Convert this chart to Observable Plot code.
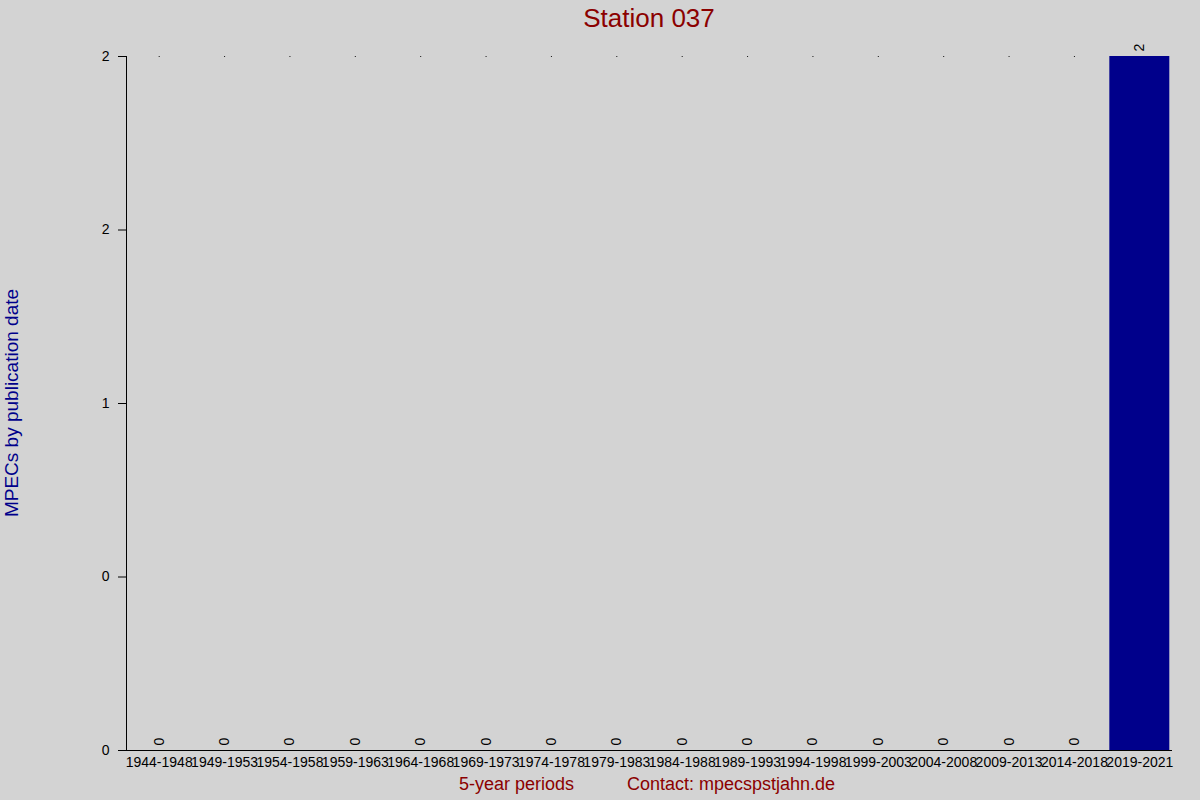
<!DOCTYPE html>
<html>
<head>
<meta charset="utf-8">
<script src="https://cdn.jsdelivr.net/npm/d3@7"></script>
<script src="https://cdn.jsdelivr.net/npm/@observablehq/plot@0.6"></script>
<style>
  html, body { margin: 0; padding: 0; background: #D3D3D3; }
  #wrap { position: relative; width: 1200px; height: 800px; background: #D3D3D3; font-family: "Liberation Sans", Arial, sans-serif; overflow: hidden; }
  .lbl { position: absolute; white-space: nowrap; }
</style>
</head>
<body>
<div id="wrap">
  <div id="chart"></div>
  <div class="lbl" id="title" style="left:0; width:1298px; top:5px; text-align:center; font-size:26px; line-height:26px; color:#8B0000;"></div>
  <div class="lbl" id="ytitle" style="left:10.5px; top:403px; transform:translate(-50%,-50%) rotate(-90deg); font-size:19px; line-height:19px; color:#00008B;"></div>
  <div class="lbl" id="xtitle" style="left:516.5px; top:784px; transform:translate(-50%,-50%); font-size:18px; line-height:18px; color:#8B0000;"></div>
  <div class="lbl" id="contact" style="left:627px; top:784px; transform:translate(0,-50%); font-size:18px; line-height:18px; color:#8B0000;"></div>
</div>
<script>
const titleText = "Station 037";
const yTitle = "MPECs by publication date";
const xTitle = "5-year periods";
const contactText = "Contact: mpecspstjahn.de";

const periods = ["1944-1948","1949-1953","1954-1958","1959-1963","1964-1968","1969-1973","1974-1978","1979-1983","1984-1988","1989-1993","1994-1998","1999-2003","2004-2008","2009-2013","2014-2018","2019-2021"];
const counts = [0,0,0,0,0,0,0,0,0,0,0,0,0,0,0,2];
const yTicks = [0, 0.5, 1, 1.5, 2];
const yTickLabels = ["0","0","1","2","2"];

document.getElementById("title").textContent = titleText;
document.getElementById("ytitle").textContent = yTitle;
document.getElementById("xtitle").textContent = xTitle;
document.getElementById("contact").textContent = contactText;

const data = periods.map((p, i) => ({period: p, count: counts[i]}));
const yMax = d3.max(counts);

// vertical y-axis line along the left edge of the plot frame
function yAxisLine(index, scales, values, dimensions) {
  const {marginLeft} = dimensions;
  const y0 = scales.y(0), y1 = scales.y(yMax);
  const line = document.createElementNS("http://www.w3.org/2000/svg", "line");
  line.setAttribute("x1", marginLeft + 0.5);
  line.setAttribute("x2", marginLeft + 0.5);
  line.setAttribute("y1", y1);
  line.setAttribute("y2", y0);
  line.setAttribute("stroke", "black");
  return line;
}

const chart = Plot.plot({
  width: 1200,
  height: 800,
  marginLeft: 126,
  marginRight: 28,
  marginTop: 56,
  marginBottom: 50,
  style: {background: "#D3D3D3", fontFamily: "Liberation Sans, Arial, sans-serif", fontSize: "14px", color: "black"},
  x: {domain: periods, padding: 0, round: false, label: null},
  y: {domain: [0, yMax], label: null},
  marks: [
    Plot.barY(data, {x: "period", y: "count", fill: "#00008B", insetLeft: 2.7, insetRight: 2.7}),
    Plot.dot(periods.slice(0, -1), {x: d => d, y: () => yMax, r: 0.6, fill: "black", stroke: null}),
    Plot.text(data, {x: "period", y: "count", text: d => String(d.count), rotate: -90, textAnchor: "start", dy: -5, fontSize: 14, fill: "black"}),
    Plot.axisY({ticks: yTicks, tickFormat: (d, i) => yTickLabels[i], tickSize: 8, tickPadding: 9, fontSize: 14, label: null}),
    Plot.axisX({tickSize: 0, tickPadding: 7, fontSize: 14, label: null}),
    yAxisLine,
    Plot.ruleY([0], {stroke: "black"})
  ]
});
document.getElementById("chart").appendChild(chart);
</script>
</body>
</html>
